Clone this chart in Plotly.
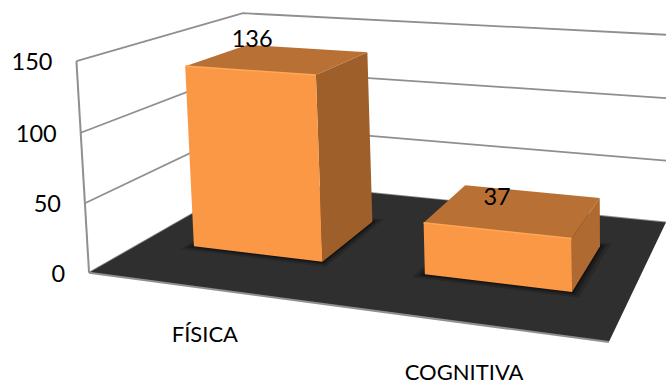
import numpy as np
import plotly.graph_objects as go

# ---- data ----
categories = ["FÍSICA", "COGNITIVA"]
values = [136, 37]
tick_values = [0, 50, 100, 150]
z_max = 150

# ---- 3D view: wall/floor corners (x in categories, y depth, z value) -> pixel ----
W, H = 666, 381
anchors = [((0,0,0),(88,272)),((2,0,0),(609,342)),((2,1,0),(666,222)),((0,1,0),(250,181)),
           ((0,0,150),(76,61)),((0,1,150),(243,13)),((2,1,150),(666,34)),
           ((0,0,100),(81,133)),((0,0,50),(86,204)),((2,1,100),(666,99)),((2,1,50),(666,161))]
rows = []
for (x, y, z), (u, v) in anchors:
    z = z / z_max
    rows.append([x,y,z,1,0,0,0,0,-u*x,-u*y,-u*z,-u])
    rows.append([0,0,0,0,x,y,z,1,-v*x,-v*y,-v*z,-v])
P = np.linalg.svd(np.array(rows, float))[2][-1].reshape(3, 4)

def proj(x, y, z):
    h = P @ np.array([x, y, z / z_max, 1.0])
    return h[0] / h[2], h[1] / h[2]

# ---- style ----
GRID = "#8f8f8f"; FLOOR = "#2f2f2f"
FRONT = "#FB9845"; TOP = "#B97034"; SIDES = ["#9E5F2A", "#AE6A30"]; BEVEL = "#FFA657"
FONT = "Lato"; FS_NUM = 23.5; FS_CAT = 22
centers = [0.51, 1.505]; half_w = 0.285; y0, y1 = 0.30, 0.70

fig = go.Figure()

def poly(pts, color, opacity=1.0):
    xy = [proj(*p) for p in pts]
    xy.append(xy[0])
    fig.add_trace(go.Scatter(x=[a for a, _ in xy], y=[b for _, b in xy], mode="lines",
                             fill="toself", fillcolor=color, line=dict(width=0),
                             opacity=opacity, hoverinfo="skip", showlegend=False))

def line(pts, color, width):
    xy = [proj(*p) for p in pts]
    fig.add_trace(go.Scatter(x=[a for a, _ in xy], y=[b for _, b in xy], mode="lines",
                             line=dict(color=color, width=width), hoverinfo="skip", showlegend=False))

# walls
for v in tick_values:
    line([(0,0,v),(0,1,v),(2,1,v)], GRID, 1.8)
# floor
poly([(0,0,0),(2,0,0),(2,1,0),(0,1,0)], FLOOR)
line([(0,0,0),(0,0,z_max)], GRID, 2)
line([(0,0,0),(2,0,0)], GRID, 2)

# bars
for i, (c, val) in enumerate(zip(centers, values)):
    a, b = c - half_w, c + half_w
    for grow, op in [(0.035, 0.15), (0.02, 0.25), (0.008, 0.35)]:
        poly([(a-grow,y0-grow,0),(b+grow,y0-grow,0),(b+grow,y1+grow,0),(a-grow,y1+grow,0)], "#000000", op)
    poly([(b,y0,0),(b,y1,0),(b,y1,val),(b,y0,val)], SIDES[i])
    poly([(a,y0,val),(b,y0,val),(b,y1,val),(a,y1,val)], TOP)
    poly([(a,y0,0),(b,y0,0),(b,y0,val),(a,y0,val)], FRONT)
    line([(a,y0,val),(b,y0,val)], BEVEL, 1.6)

def text(labels, xs, ys, size, pos="middle center"):
    fig.add_trace(go.Scatter(x=xs, y=ys, mode="text", text=labels, textposition=pos,
                             textfont=dict(family=FONT, size=size, color="#000000"),
                             hoverinfo="skip", showlegend=False, cliponaxis=False))

# value axis labels
tk = [proj(0, 0, v) for v in tick_values]
text([str(v) for v in tick_values], [p[0] - 24 for p in tk], [p[1] + 3 for p in tk], FS_NUM, "middle left")

# data labels
lab_pos = [(0.172, 0.814), (1.393, 0.609)]
lp = [proj(x, y, v) for (x, y), v in zip(lab_pos, values)]
text([str(v) for v in values], [p[0] for p in lp], [p[1] + 2 for p in lp], FS_NUM)

# category labels
cat_pos = [0.707, 1.616]
cp = [proj(x, -0.279, 0) for x in cat_pos]
text(categories, [p[0] for p in cp], [p[1] + 2 for p in cp], FS_CAT)

fig.update_layout(width=W, height=H, margin=dict(l=0, r=0, t=0, b=0),
                  paper_bgcolor="white", plot_bgcolor="white", showlegend=False,
                  xaxis=dict(range=[0, W], visible=False, fixedrange=True),
                  yaxis=dict(range=[H, 0], visible=False, fixedrange=True))
fig.write_html("out.html", post_script="document.body.style.margin='0';document.body.style.overflow='hidden';",
               config=dict(displayModeBar=False))
